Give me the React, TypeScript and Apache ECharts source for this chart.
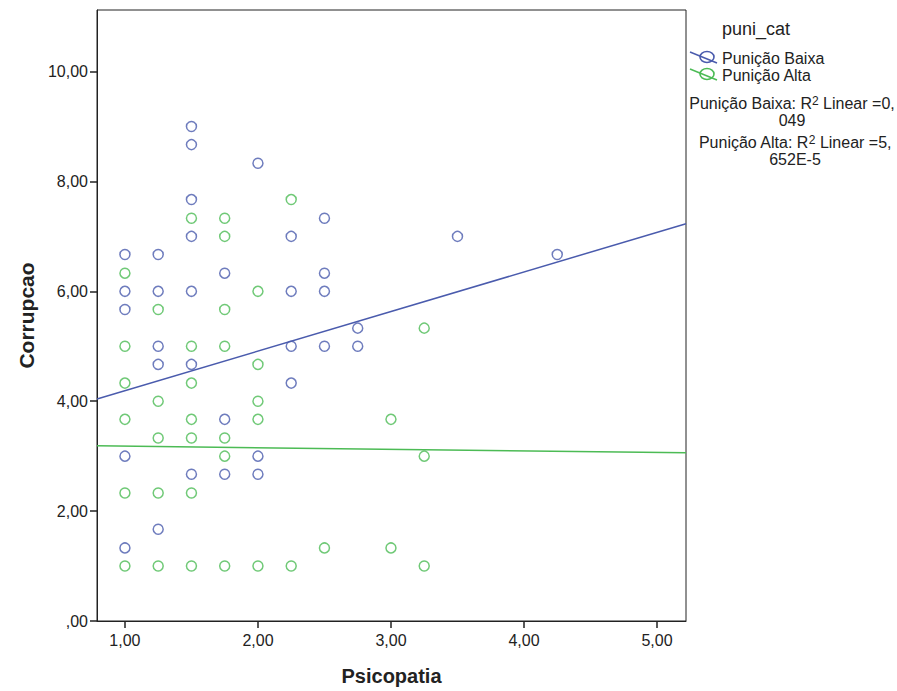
import React, { useEffect, useRef } from "react";
import * as echarts from "echarts";

const baixaPoints: [number, number][] = [
  [1.0, 6.67], [1.0, 6.0], [1.0, 5.67], [1.0, 3.0], [1.0, 1.33],
  [1.25, 6.67], [1.25, 6.0], [1.25, 5.0], [1.25, 4.67], [1.25, 1.67],
  [1.5, 9.0], [1.5, 8.67], [1.5, 7.67], [1.5, 7.0], [1.5, 6.0], [1.5, 4.67], [1.5, 2.67],
  [1.75, 6.33], [1.75, 3.67], [1.75, 2.67],
  [2.0, 8.33], [2.0, 3.0], [2.0, 2.67],
  [2.25, 7.0], [2.25, 6.0], [2.25, 5.0], [2.25, 4.33],
  [2.5, 7.33], [2.5, 6.33], [2.5, 6.0], [2.5, 5.0],
  [2.75, 5.33], [2.75, 5.0],
  [3.5, 7.0],
  [4.25, 6.67],
];

const altaPoints: [number, number][] = [
  [1.0, 6.33], [1.0, 5.0], [1.0, 4.33], [1.0, 3.67], [1.0, 2.33], [1.0, 1.0],
  [1.25, 5.67], [1.25, 4.0], [1.25, 3.33], [1.25, 2.33], [1.25, 1.0],
  [1.5, 7.33], [1.5, 5.0], [1.5, 4.33], [1.5, 3.67], [1.5, 3.33], [1.5, 2.33], [1.5, 1.0],
  [1.75, 7.33], [1.75, 7.0], [1.75, 5.67], [1.75, 5.0], [1.75, 3.33], [1.75, 3.0], [1.75, 1.0],
  [2.0, 6.0], [2.0, 4.67], [2.0, 4.0], [2.0, 3.67], [2.0, 1.0],
  [2.25, 7.67], [2.25, 1.0],
  [2.5, 1.33],
  [3.0, 3.67], [3.0, 1.33],
  [3.25, 5.33], [3.25, 3.0], [3.25, 1.0],
];

// fit lines: endpoints at axis extent
const baixaFit: [number, number][] = [[0.79, 4.04], [5.218, 7.23]];
const altaFit: [number, number][] = [[0.79, 3.19], [5.218, 3.06]];

const xTicks = [1, 2, 3, 4, 5];
const yTicks = [0, 2, 4, 6, 8, 10];

const BLUE = "#4a5bad";
const GREEN = "#4cbb55";
const FONT = "'Liberation Sans', Arial, sans-serif";
const TXT = "#222";

const fmt = (v: number) => (v === 0 ? ",00" : v.toFixed(2).replace(".", ","));

export default function App() {
  const ref = useRef<HTMLDivElement>(null);
  useEffect(() => {
    if (!ref.current) return;
    const chart = echarts.init(ref.current, undefined, { renderer: "svg" });
    const scatterStyle = (c: string) => ({
      color: "rgba(0,0,0,0)",
      borderColor: c,
      borderWidth: 1.5,
    });
    const legendIcon = (y: number, c: string) => [
      { type: "line", shape: { x1: 690, y1: y - 5, x2: 717, y2: y + 6 }, style: { stroke: c, lineWidth: 1.5 } },
      { type: "ellipse", shape: { cx: 707, cy: y, rx: 7, ry: 5.5 }, style: { fill: "rgba(0,0,0,0)", stroke: c, lineWidth: 1.6 } },
    ];
    chart.setOption({
      animation: false,
      backgroundColor: "#fff",
      textStyle: { fontFamily: FONT },
      grid: { left: 97, top: 10, width: 589, height: 616, show: true, borderColor: "#222", borderWidth: 1 },
      xAxis: {
        type: "value",
        min: 0.79,
        max: 5.218,
        name: "Psicopatia",
        nameLocation: "middle",
        nameGap: 45,
        nameTextStyle: { fontSize: 20, fontWeight: "bold", color: TXT, fontFamily: FONT },
        axisLine: { onZero: false, lineStyle: { color: "#222" } },
        axisTick: { customValues: xTicks, length: 7, lineStyle: { color: "#222", width: 1.5 } },
        axisLabel: { customValues: xTicks, formatter: fmt, color: TXT, fontSize: 16, margin: 11, fontFamily: FONT },
        splitLine: { show: false },
      },
      yAxis: {
        type: "value",
        min: 0,
        max: 11.12,
        name: "Corrupcao",
        nameLocation: "middle",
        nameGap: 59,
        nameRotate: 90,
        nameTextStyle: { fontSize: 21, fontWeight: "bold", color: TXT, fontFamily: FONT },
        axisLine: { onZero: false, lineStyle: { color: "#222" } },
        axisTick: { customValues: yTicks, length: 7, lineStyle: { color: "#222", width: 1.5 } },
        axisLabel: { customValues: yTicks, formatter: fmt, color: TXT, fontSize: 16, margin: 9, fontFamily: FONT },
        splitLine: { show: false },
      },
      series: [
        {
          name: "Punição Baixa",
          type: "scatter",
          data: baixaPoints,
          symbol: "circle",
          symbolSize: 10,
          itemStyle: scatterStyle(BLUE),
        },
        {
          name: "Punição Alta",
          type: "scatter",
          data: altaPoints,
          symbol: "circle",
          symbolSize: 10,
          itemStyle: scatterStyle(GREEN),
        },
        {
          name: "Baixa fit",
          type: "line",
          data: baixaFit,
          showSymbol: false,
          lineStyle: { color: BLUE, width: 1.5 },
          z: 1,
        },
        {
          name: "Alta fit",
          type: "line",
          data: altaFit,
          showSymbol: false,
          lineStyle: { color: GREEN, width: 1.5 },
          z: 1,
        },
      ],
      graphic: [
        { type: "text", left: 722, top: 20, style: { text: "puni_cat", fontSize: 18, fill: TXT, fontFamily: FONT } },
        ...legendIcon(57, BLUE),
        ...legendIcon(74, GREEN),
        { type: "text", left: 722, top: 50, style: { text: "Punição Baixa", fontSize: 16, fill: TXT, fontFamily: FONT } },
        { type: "text", left: 722, top: 67, style: { text: "Punição Alta", fontSize: 16, fill: TXT, fontFamily: FONT } },
        {
          type: "text",
          x: 792,
          y: 95,
          style: {
            text: "Punição Baixa: R{sup|2} Linear =0,\n049",
            align: "center",
            fontSize: 16,
            lineHeight: 17,
            fill: TXT,
            fontFamily: FONT,
            rich: {
              sup: { fontSize: 12, verticalAlign: "top", padding: [0, 0, 6, 0], fill: TXT, fontFamily: FONT },
            },
          },
        },
        {
          type: "text",
          x: 795,
          y: 134,
          style: {
            text: "Punição Alta: R{sup|2} Linear =5,\n652E-5",
            align: "center",
            fontSize: 16,
            lineHeight: 17,
            fill: TXT,
            fontFamily: FONT,
            rich: {
              sup: { fontSize: 12, verticalAlign: "top", padding: [0, 0, 6, 0], fill: TXT, fontFamily: FONT },
            },
          },
        },
      ],
    });
    return () => chart.dispose();
  }, []);
  return <div ref={ref} style={{ position: "fixed", left: 0, top: 0, width: 897, height: 691 }} />;
}
